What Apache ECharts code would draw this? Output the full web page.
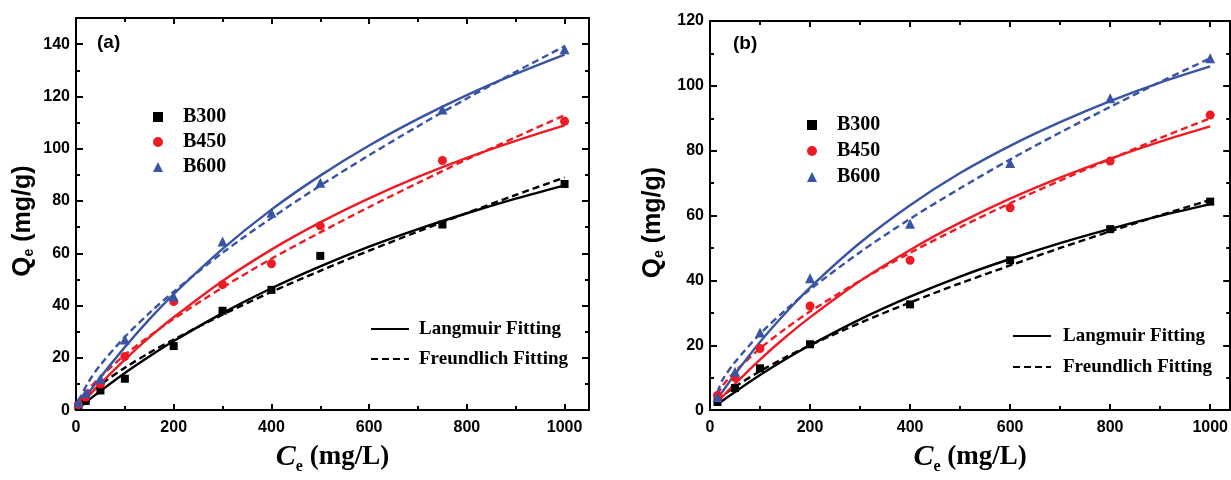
<!DOCTYPE html>
<html>
<head>
<meta charset="utf-8">
<script src="https://cdn.jsdelivr.net/npm/echarts@6/dist/echarts.min.js"></script>
<style>
  html, body { margin: 0; padding: 0; background: #fff; }
  #chart { width: 1231px; height: 480px; }
</style>
</head>
<body>
<div id="chart"></div>
<script>
// ---- Adsorption isotherm data: Ce (mg/L) vs Qe (mg/g) ----
const sampleNames = ['B300', 'B450', 'B600'];
const axisTickValuesX = [0, 200, 400, 600, 800, 1000];

// Panel (a): measured points
const ceA = [5, 20, 50, 100, 200, 300, 400, 500, 750, 1000];
const qeA_B300 = [1.5, 3.5, 7.5, 12, 24.5, 38, 46, 59, 71, 86.5];
const qeA_B450 = [2, 5, 10, 20.5, 41.5, 48, 56, 70.5, 95.5, 110.5];
const qeA_B600 = [3, 6.5, 12, 27, 43.5, 64.5, 75.5, 87, 115, 138];

// Panel (a): fitted curves
const fitCeA = [5, 25, 50, 100, 150, 200, 300, 400, 500, 600, 700, 800, 900, 1000];
const langA_B300 = [0.8, 3.7, 7.3, 14.2, 20.5, 26.4, 37.1, 46.6, 55.0, 62.5, 69.2, 75.3, 80.9, 86.0];
const freuA_B300 = [1.8, 5.8, 9.7, 16.2, 21.9, 27.0, 36.5, 45.2, 53.3, 61.0, 68.3, 75.4, 82.3, 89.0];
const langA_B450 = [1.1, 5.2, 10.1, 19.3, 27.8, 35.5, 49.4, 61.4, 71.8, 81.0, 89.2, 96.5, 103.0, 108.9];
const freuA_B450 = [2.4, 7.7, 12.7, 21.1, 28.3, 34.9, 46.9, 57.9, 68.0, 77.7, 86.9, 95.9, 104.4, 112.8];
const langA_B600 = [1.3, 6.4, 12.6, 24.1, 34.7, 44.4, 61.7, 76.7, 89.7, 101.2, 111.4, 120.5, 128.6, 136.0];
const freuA_B600 = [3.5, 10.6, 17.3, 28.0, 37.1, 45.3, 60.2, 73.5, 85.9, 97.5, 108.6, 119.2, 129.4, 139.2];

// Panel (b): measured points
const ceB = [15, 50, 100, 200, 400, 600, 800, 1000];
const qeB_B300 = [2.5, 6.8, 12.9, 20.3, 32.6, 46.2, 55.8, 64.3];
const qeB_B450 = [4.5, 10, 19, 32.1, 46.2, 62.4, 76.8, 91];
const qeB_B600 = [4, 11.8, 23.9, 40.7, 57.5, 76.2, 96.2, 108.5];

// Panel (b): fitted curves
const fitCeB = [15, 25, 50, 100, 150, 200, 300, 400, 500, 600, 700, 800, 900, 1000];
const langB_B300 = [1.7, 2.9, 5.6, 10.8, 15.6, 20.0, 28.0, 35.0, 41.2, 46.6, 51.5, 55.9, 59.9, 63.5];
const freuB_B300 = [3.0, 4.4, 7.2, 12.0, 16.2, 20.0, 26.9, 33.2, 39.1, 44.6, 50.0, 55.1, 60.1, 64.8];
const langB_B450 = [2.5, 4.2, 8.1, 15.6, 22.4, 28.6, 39.8, 49.4, 57.8, 65.2, 71.7, 77.5, 82.8, 87.5];
const freuB_B450 = [4.8, 7.5, 11.9, 19.0, 25.0, 30.4, 39.9, 48.5, 56.4, 63.8, 70.8, 77.4, 83.9, 90.0];
const langB_B600 = [3.5, 5.7, 11.1, 21.0, 29.8, 37.8, 51.6, 63.2, 73.1, 81.5, 88.8, 95.3, 101.0, 106.0];
const freuB_B600 = [5.5, 9.3, 14.8, 23.5, 30.7, 37.2, 48.7, 59.0, 68.4, 77.3, 85.6, 93.5, 101.2, 108.5];

// ---- styling ----
const COLORS = { B300: '#000000', B450: '#ED1C24', B600: '#3A54A4' };
const SYMBOLS = { B300: 'rect', B450: 'circle', B600: 'triangle' };
const SYMBOL_SIZES = { B300: 8, B450: 9, B600: 10 };
const SANS = "'Liberation Sans', Arial, sans-serif";
const SERIF = "'Liberation Serif', 'Times New Roman', serif";
const DASH = [7, 4];
const FIT_WIDTH = 2.4;

const pairs = (xs, ys) => xs.map((x, i) => [x, ys[i]]);

function scatter(name, xs, ys, idx) {
  return {
    type: 'scatter', name, xAxisIndex: idx * 2, yAxisIndex: idx * 2,
    data: pairs(xs, ys), symbol: SYMBOLS[name], symbolSize: SYMBOL_SIZES[name],
    itemStyle: { color: COLORS[name], opacity: 1 }, z: 3
  };
}
function fit(name, xs, ys, idx, dashed) {
  return {
    type: 'line', name: name + (dashed ? ' Freundlich' : ' Langmuir'),
    xAxisIndex: idx * 2, yAxisIndex: idx * 2,
    data: pairs(xs, ys), smooth: 0.3, showSymbol: false, symbol: 'none',
    lineStyle: { color: COLORS[name], width: FIT_WIDTH, type: dashed ? DASH : 'solid' },
    z: 2, silent: true
  };
}

function bottomAxis(idx, max, nameGap) {
  return {
    type: 'value', gridIndex: idx, min: 0, max, interval: 200,
    axisLine: { onZero: false, lineStyle: { color: '#000', width: 2 } },
    axisTick: { inside: true, length: 6, lineStyle: { width: 2, color: '#000' } },
    minorTick: { show: true, splitNumber: 2, length: 4, lineStyle: { width: 2, color: '#000' } },
    splitLine: { show: false },
    axisLabel: {
      color: '#000', fontFamily: SANS, fontWeight: 'bold', fontSize: 16, margin: 9,
      showMaxLabel: false,
      formatter: v => (axisTickValuesX.indexOf(v) >= 0 ? String(v) : '')
    },
    name: '{c|C}{s|e}{u| (mg/L)}', nameLocation: 'middle', nameGap,
    nameTextStyle: {
      lineHeight: 34,
      rich: {
        c: { fontFamily: SERIF, fontStyle: 'italic', fontWeight: 'bold', fontSize: 30, color: '#000', lineHeight: 34 },
        s: { fontFamily: SERIF, fontWeight: 'bold', fontSize: 16, color: '#000', padding: [20, 0, 0, 0] },
        u: { fontFamily: SERIF, fontWeight: 'bold', fontSize: 27, color: '#000', lineHeight: 34 }
      }
    }
  };
}
function topAxis(idx, max) {
  return {
    type: 'value', gridIndex: idx, position: 'top', min: 0, max, interval: 200,
    axisLine: { onZero: false, lineStyle: { color: '#000', width: 2 } },
    axisTick: { inside: true, length: 6, lineStyle: { width: 2, color: '#000' } },
    minorTick: { show: true, splitNumber: 2, length: 4, lineStyle: { width: 2, color: '#000' } },
    splitLine: { show: false }, axisLabel: { show: false }
  };
}
function leftAxis(idx, max, nameGap) {
  return {
    type: 'value', gridIndex: idx, min: 0, max, interval: 20,
    axisLine: { onZero: false, lineStyle: { color: '#000', width: 2 } },
    axisTick: { inside: true, length: 7, lineStyle: { width: 2, color: '#000' } },
    minorTick: { show: true, splitNumber: 2, length: 4, lineStyle: { width: 2, color: '#000' } },
    splitLine: { show: false },
    axisLabel: {
      color: '#000', fontFamily: SANS, fontWeight: 'bold', fontSize: 16, margin: 6,
      formatter: v => (v % 20 === 0 ? String(v) : '')
    },
    name: '{q|Q}{s|e}{u| (mg/g)}', nameLocation: 'middle', nameGap,
    nameTextStyle: {
      lineHeight: 30, padding: [0, 14, 0, 0],
      rich: {
        q: { fontFamily: SANS, fontWeight: 'bold', fontSize: 26, color: '#000', lineHeight: 30 },
        s: { fontFamily: SANS, fontWeight: 'bold', fontSize: 14, color: '#000', padding: [12, 0, 0, 0] },
        u: { fontFamily: SANS, fontWeight: 'bold', fontSize: 25, color: '#000', lineHeight: 30 }
      }
    }
  };
}
function rightAxis(idx, max) {
  return {
    type: 'value', gridIndex: idx, position: 'right', min: 0, max, interval: 20,
    axisLine: { onZero: false, lineStyle: { color: '#000', width: 2 } },
    axisTick: { inside: true, length: 7, lineStyle: { width: 2, color: '#000' } },
    minorTick: { show: true, splitNumber: 2, length: 4, lineStyle: { width: 2, color: '#000' } },
    splitLine: { show: false }, axisLabel: { show: false }
  };
}

function markerLegend(left, top, gap) {
  return {
    orient: 'vertical', left, top, padding: 0, itemWidth: 10, itemHeight: 10, itemGap: gap,
    selectedMode: false, data: sampleNames,
    itemStyle: { opacity: 1 },
    textStyle: { fontFamily: SERIF, fontWeight: 'bold', fontSize: 20, color: '#000', lineHeight: 20, padding: [0, 0, 0, 15] }
  };
}
function lineLegend(left, top, gap, pad) {
  return {
    orient: 'vertical', left, top, padding: 0, itemWidth: 38, itemHeight: 12, itemGap: gap,
    selectedMode: false, data: ['Langmuir Fitting', 'Freundlich Fitting'],
    itemStyle: { opacity: 0, borderWidth: 0 },
    textStyle: { fontFamily: SERIF, fontWeight: 'bold', fontSize: 19, color: '#000', lineHeight: 20, padding: [0, 0, 0, pad] }
  };
}
function legendKey(name, dashed) {
  return {
    type: 'line', name, xAxisIndex: 0, yAxisIndex: 0, data: [], symbol: 'none',
    itemStyle: { color: '#000' },
    lineStyle: { color: '#000', width: 2, type: dashed ? DASH : 'solid' }
  };
}

const option = {
  backgroundColor: '#fff',
  animation: false,
  title: [
    { text: '(a)', left: 97, top: 33, padding: 0, textStyle: { fontFamily: SANS, fontWeight: 'bold', fontSize: 19, color: '#000' } },
    { text: '(b)', left: 733, top: 34, padding: 0, textStyle: { fontFamily: SANS, fontWeight: 'bold', fontSize: 19, color: '#000' } }
  ],
  grid: [
    { left: 76, top: 18, width: 513, height: 401 },
    { left: 710, top: 21, right: 0, height: 406 }
  ],
  xAxis: [bottomAxis(0, 1050, 19), topAxis(0, 1050), bottomAxis(1, 1040, 22), topAxis(1, 1040)],
  yAxis: [leftAxis(0, 150, 38), rightAxis(0, 150), leftAxis(1, 120, 42), rightAxis(1, 120)],
  legend: [
    markerLegend(153, 107, 5),
    markerLegend(807, 115, 6),
    lineLegend(370, 319, 10, 5),
    lineLegend(1012, 326, 11, 7)
  ],
  series: [
    fit('B300', fitCeA, langA_B300, 0, false),
    fit('B300', fitCeA, freuA_B300, 0, true),
    fit('B450', fitCeA, langA_B450, 0, false),
    fit('B450', fitCeA, freuA_B450, 0, true),
    fit('B600', fitCeA, langA_B600, 0, false),
    fit('B600', fitCeA, freuA_B600, 0, true),
    scatter('B300', ceA, qeA_B300, 0),
    scatter('B450', ceA, qeA_B450, 0),
    scatter('B600', ceA, qeA_B600, 0),

    fit('B300', fitCeB, langB_B300, 1, false),
    fit('B300', fitCeB, freuB_B300, 1, true),
    fit('B450', fitCeB, langB_B450, 1, false),
    fit('B450', fitCeB, freuB_B450, 1, true),
    fit('B600', fitCeB, langB_B600, 1, false),
    fit('B600', fitCeB, freuB_B600, 1, true),
    scatter('B300', ceB, qeB_B300, 1),
    scatter('B450', ceB, qeB_B450, 1),
    scatter('B600', ceB, qeB_B600, 1),

    legendKey('Langmuir Fitting', false),
    legendKey('Freundlich Fitting', true)
  ]
};

const chart = echarts.init(document.getElementById('chart'), null, { renderer: 'canvas' });
chart.setOption(option);
</script>
</body>
</html>
